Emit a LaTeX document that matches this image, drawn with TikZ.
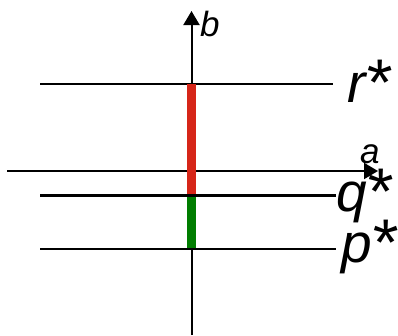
\documentclass[tikz,border=0pt]{standalone}
\usepackage{fontspec}
\setmainfont{Liberation Sans}
\usetikzlibrary{arrows.meta}
\newcommand{\bigast}{\kern-1pt\raisebox{-3pt}{\fontsize{66}{66}\selectfont *}}
\tikzset{
  axis/.style={line width=2pt,-{Triangle[width=16pt,length=14pt]}},
  level/.style={line width=2pt},
  biglabel/.style={anchor=base west,inner sep=0pt,font=\fontsize{55}{60}\selectfont\itshape},
  axislabel/.style={anchor=base west,inner sep=0pt,font=\fontsize{35}{40}\selectfont\itshape},
  bar/.style={line width=9pt}
}
\begin{document}
\begin{tikzpicture}[x=1pt,y=-1pt]
\useasboundingbox (0,0) rectangle (398,335);
% axes
\coordinate (bbot) at (191.5,335);
\coordinate (btop) at (191.5,11);
\coordinate (aleft) at (7,171);
\coordinate (aright) at (378,171);
\draw[axis] (bbot) -- (btop);
\draw[axis] (aleft) -- (aright);
% levels
\coordinate (rL) at (40,84);  \coordinate (rR) at (333,84);
\coordinate (qL) at (40,195.5); \coordinate (qR) at (336,195.5);
\coordinate (pL) at (40,248.5); \coordinate (pR) at (336,248.5);
\draw[level] (rL) -- (rR);
\draw[level] (pL) -- (pR);
% bars
\coordinate (rb) at (191.5,84);
\coordinate (qb) at (191.5,195);
\coordinate (pb) at (191.5,248);
\draw[bar,draw={rgb,255:red,214;green,38;blue,24}] (rb) -- (qb);
\draw[bar,draw={rgb,255:red,0;green,125;blue,0}] (qb) -- (pb);
\draw[level,line width=3pt] (qL) -- (qR);
% labels
\node[axislabel] (lb) at (200,36) {b};
\node[axislabel] (la) at (360,163) {a};
\node[biglabel] (lr) at (347,102) {r\bigast};
\node[biglabel] (lq) at (336,211) {q\bigast};
\node[biglabel] (lp) at (341,262) {p\bigast};
\end{tikzpicture}
\end{document}
